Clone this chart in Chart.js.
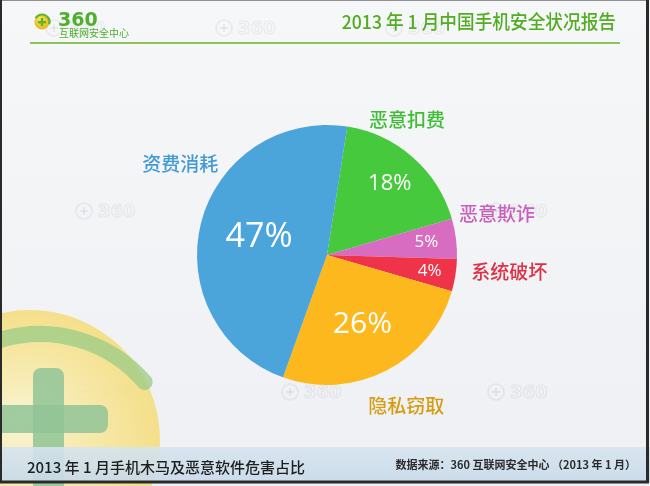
<!DOCTYPE html>
<html><head><meta charset="utf-8">
<script src="https://cdn.jsdelivr.net/npm/chart.js@4.4.1/dist/chart.umd.min.js"></script>
<style>html,body{margin:0;padding:0;background:#fff;overflow:hidden}canvas{display:block}</style>
</head><body>
<canvas id="c" width="650" height="486"></canvas>
<script>
// ---- data ----
const categories = ['恶意扣费', '恶意欺诈', '系统破坏', '隐私窃取', '资费消耗'];
const shares = [18, 5, 4, 26, 47];
const titleText = '2013 年 1 月中国手机安全状况报告';
const subtitleText = '2013 年 1 月手机木马及恶意软件危害占比';
const sourceText = '数据来源：360 互联网安全中心 （2013 年 1 月）';
const logoText = '360';
const logoSubText = '互联网安全中心';

// ---- styles ----
const sliceColors = ['#47c93d', '#d86cc1', '#ef3349', '#fdb81d', '#4ba4da'];
const labelColors = ['#3fbe35', '#c95fbd', '#df3047', '#d49d12', '#449ad4'];
const valueFontSizes = [22, 17, 17, 30, 34];
const valueRadius = [0.73, 0.77, 0.8, 0.6, 0.54];
const nameAngleShift = [-10.8, -6.4, -3.7, -0.8, 17.6];
const nameDistance = [157, 175, 183, 170, 173];
const CJK = '"Noto Sans CJK SC", sans-serif';
const NUM = '"Open Sans", "Noto Sans", sans-serif';

function watermark(ctx, x, y) {
  ctx.save();
  ctx.globalAlpha = 0.13;
  ctx.strokeStyle = '#8a8f96';
  ctx.fillStyle = '#8a8f96';
  ctx.lineWidth = 1.6;
  ctx.beginPath(); ctx.arc(x - 26, y, 8, 0, Math.PI * 2); ctx.stroke();
  ctx.fillRect(x - 30, y - 1, 8, 2); ctx.fillRect(x - 27, y - 4, 2, 8);
  ctx.font = 'bold 18px "DejaVu Sans", sans-serif';
  ctx.textBaseline = 'middle'; ctx.textAlign = 'left';
  ctx.lineWidth = 1.2;
  ctx.strokeText('360', x - 12, y + 1);
  ctx.restore();
}

function squeezedText(ctx, text, x, y, sx) {
  ctx.save();
  ctx.translate(x, y);
  ctx.scale(sx, 1);
  ctx.fillText(text, 0, 0);
  ctx.restore();
}

const decor = {
  id: 'decor',
  beforeDraw(chart) {
    const ctx = chart.ctx;
    const W = chart.width, H = chart.height;
    ctx.save();
    // background
    const bg = ctx.createLinearGradient(0, 0, 0, H);
    bg.addColorStop(0, '#f6f7f9'); bg.addColorStop(1, '#eef0f3');
    ctx.fillStyle = bg; ctx.fillRect(0, 0, W, H);
    // watermarks
    [[80, 28], [250, 28], [420, 28], [110, 211], [316, 211], [522, 211], [110, 392], [316, 392], [522, 392]]
      .forEach(p => watermark(ctx, p[0], p[1]));
    // big logo bottom-left
    ctx.save();
    const rg = ctx.createRadialGradient(20, 420, 10, 30, 440, 132);
    rg.addColorStop(0, 'rgba(250,243,200,0.9)');
    rg.addColorStop(1, 'rgba(245,218,110,0.8)');
    ctx.fillStyle = rg;
    ctx.beginPath(); ctx.arc(30, 440, 130, 0, Math.PI * 2); ctx.fill();
    ctx.strokeStyle = 'rgba(160,205,135,0.8)';
    ctx.lineWidth = 16; ctx.lineCap = 'round';
    ctx.beginPath(); ctx.arc(40, 472, 138, -1.86, -0.71); ctx.stroke();
    ctx.fillStyle = 'rgba(145,196,150,0.85)';
    ctx.beginPath(); ctx.roundRect(33, 368, 31, 130, 8); ctx.fill();
    ctx.beginPath(); ctx.roundRect(-10, 405, 118, 28, 8); ctx.fill();
    ctx.restore();
    // header
    const ig = ctx.createRadialGradient(40, 19, 1, 42, 22, 8);
    ig.addColorStop(0, '#f7e65a'); ig.addColorStop(1, '#e8b417');
    ctx.fillStyle = ig; ctx.beginPath(); ctx.arc(42, 22, 7.5, 0, Math.PI * 2); ctx.fill();
    ctx.strokeStyle = '#5cb531'; ctx.lineWidth = 2.2;
    ctx.beginPath(); ctx.arc(42, 22, 7.5, -2.6, 0.3); ctx.stroke();
    ctx.fillStyle = '#5cb531';
    ctx.fillRect(38, 21, 8, 2.4); ctx.fillRect(40.8, 18, 2.4, 8);
    ctx.font = 'bold 19px "DejaVu Sans", sans-serif';
    ctx.textBaseline = 'alphabetic'; ctx.textAlign = 'left';
    ctx.fillStyle = '#4fae2c';
    ctx.fillText(logoText, 58, 26);
    ctx.font = '10px ' + CJK;
    ctx.fillText(logoSubText, 59, 37);
    ctx.font = '500 19px ' + CJK;
    ctx.textAlign = 'right'; ctx.textBaseline = 'middle';
    ctx.fillStyle = '#52ad22';
    squeezedText(ctx, titleText, 616, 22, 0.93);
    ctx.fillStyle = '#8cc35a';
    ctx.fillRect(30, 42, 590, 2);
    // footer band
    const fg = ctx.createLinearGradient(0, 446, 0, 482);
    fg.addColorStop(0, 'rgba(214,228,240,0.88)'); fg.addColorStop(1, 'rgba(200,218,233,0.92)');
    ctx.fillStyle = fg; ctx.fillRect(0, 447, W, 35);
    ctx.fillStyle = '#1e1e1e';
    ctx.textAlign = 'left'; ctx.textBaseline = 'middle';
    ctx.font = '500 15px ' + CJK;
    ctx.fillText(subtitleText, 27, 467);
    ctx.fillStyle = '#2b2b2b';
    ctx.textAlign = 'right';
    ctx.font = 'bold 11px ' + CJK;
    ctx.fillText(sourceText, 636, 465);
    // frame
    ctx.strokeStyle = '#2a2a2a'; ctx.lineWidth = 3;
    ctx.strokeRect(0.5, -1, W - 3, H - 3);
    ctx.restore();
  }
};

const labels = {
  id: 'pieLabels',
  afterDatasetsDraw(chart) {
    const ctx = chart.ctx;
    const arcs = chart.getDatasetMeta(0).data;
    ctx.save();
    ctx.textAlign = 'center'; ctx.textBaseline = 'middle';
    arcs.forEach((arc, i) => {
      const { x, y, startAngle, endAngle, outerRadius } = arc.getProps(['x', 'y', 'startAngle', 'endAngle', 'outerRadius'], true);
      const mid = (startAngle + endAngle) / 2;
      // value inside
      const fr = outerRadius * valueRadius[i];
      ctx.fillStyle = '#ffffff';
      ctx.font = valueFontSizes[i] + 'px ' + NUM;
      ctx.fillText(shares[i] + '%', x + Math.cos(mid) * fr, y + Math.sin(mid) * fr);
      // category outside
      const a = mid + nameAngleShift[i] * Math.PI / 180;
      ctx.font = '500 19px ' + CJK;
      ctx.fillStyle = labelColors[i];
      ctx.fillText(categories[i], x + Math.cos(a) * nameDistance[i], y + Math.sin(a) * nameDistance[i]);
    });
    ctx.restore();
  }
};

new Chart(document.getElementById('c'), {
  type: 'pie',
  data: {
    labels: categories,
    datasets: [{
      data: shares,
      backgroundColor: sliceColors,
      borderWidth: 0,
      hoverOffset: 0
    }]
  },
  options: {
    responsive: false,
    animation: false,
    devicePixelRatio: 1,
    rotation: 9,
    radius: 130,
    layout: { padding: { left: 4, right: 0, top: 125, bottom: 101 } },
    plugins: { legend: { display: false }, tooltip: { enabled: false } },
    events: []
  },
  plugins: [decor, labels]
});
</script>
</body></html>
